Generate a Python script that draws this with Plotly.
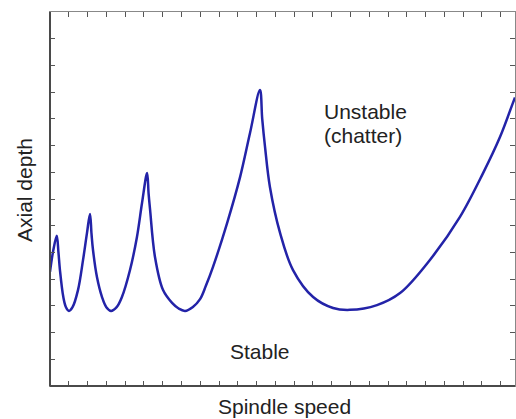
import plotly.graph_objects as go

# Stability lobe diagram values
spindle_speed = [0.00, 0.16, 0.36, 0.45, 0.53, 0.71, 0.85, 1.01, 1.20, 1.49,
                 1.76, 1.97, 2.13, 2.21, 2.29, 2.50, 2.77, 3.00, 3.25, 3.55,
                 3.83, 4.26, 4.63, 4.90, 5.17, 5.25, 5.33, 5.59, 6.02, 6.50,
                 6.85, 7.19, 7.61, 7.99, 8.30, 8.68, 9.43, 10.12, 10.65, 11.18,
                 11.30, 11.45, 11.71, 12.25, 12.94, 14.01, 15.07, 15.97,
                 17.41, 18.64, 20.23, 21.83, 23.06, 23.96, 24.65, 24.76]
axial_depth = [4.27, 5.02, 5.62, 5.00, 4.34, 3.33, 2.95, 2.81, 2.95, 3.59,
               4.72, 5.73, 6.44, 5.70, 5.09, 4.08, 3.33, 2.95, 2.81, 2.95,
               3.33, 4.34, 5.58, 6.85, 7.97, 7.20, 6.59, 4.83, 3.59, 3.11,
               2.90, 2.81, 2.96, 3.25, 3.75, 4.46, 6.10, 7.82, 9.47, 11.08,
               10.00, 8.95, 7.45, 5.73, 4.34, 3.33, 2.92, 2.85,
               3.03, 3.48, 4.72, 6.33, 7.97, 9.32, 10.60, 10.80]

x_title = "Spindle speed"
y_title = "Axial depth"
region_labels = ["Unstable", "(chatter)", "Stable"]

FONT = "Liberation Sans, Arial, sans-serif"

fig = go.Figure()
fig.add_trace(go.Scatter(
    x=spindle_speed, y=axial_depth, mode="lines",
    line=dict(color="#2323a8", width=2.5, shape="spline", smoothing=1.0),
    hoverinfo="skip", showlegend=False, cliponaxis=True,
))

axis_common = dict(
    showgrid=False, zeroline=False, showticklabels=False,
    ticks="inside", ticklen=5, tickwidth=1, tickcolor="#555555",
    showline=True, linecolor="#888888", linewidth=1.2, mirror="ticks",
    dtick=1, tick0=0,
)

fig.update_layout(
    width=516, height=419,
    margin=dict(l=50, r=1, t=12, b=33),
    paper_bgcolor="white", plot_bgcolor="white",
    xaxis=dict(range=[0, 24.76], **axis_common),
    yaxis=dict(range=[0, 14], **axis_common),
    font=dict(family=FONT, color="#222222"),
    shapes=[
        dict(type="line", xref="paper", yref="paper", x0=0, x1=0, y0=0, y1=1,
             line=dict(color="#4a4a4a", width=2)),
        dict(type="line", xref="paper", yref="paper", x0=0, x1=1, y0=0, y1=0,
             line=dict(color="#4a4a4a", width=2)),
    ],
    annotations=[
        dict(text=region_labels[0], x=14.48, y=10.26, xref="x", yref="y",
             xanchor="left", yanchor="middle", showarrow=False,
             font=dict(size=21, family=FONT, color="#222222")),
        dict(text=region_labels[1], x=14.48, y=9.36, xref="x", yref="y",
             xanchor="left", yanchor="middle", showarrow=False,
             font=dict(size=21, family=FONT, color="#222222")),
        dict(text=region_labels[2], x=11.16, y=1.31, xref="x", yref="y",
             xanchor="center", yanchor="middle", showarrow=False,
             font=dict(size=21, family=FONT, color="#222222")),
        dict(text=x_title, x=0.505, y=-0.056, xref="paper", yref="paper",
             xanchor="center", yanchor="middle", showarrow=False,
             font=dict(size=21, family=FONT, color="#222222")),
        dict(text=y_title, x=-0.056, y=0.524, xref="paper", yref="paper",
             xanchor="center", yanchor="middle", showarrow=False, textangle=-90,
             font=dict(size=21, family=FONT, color="#222222")),
    ],
)

fig.write_html("out.html")
